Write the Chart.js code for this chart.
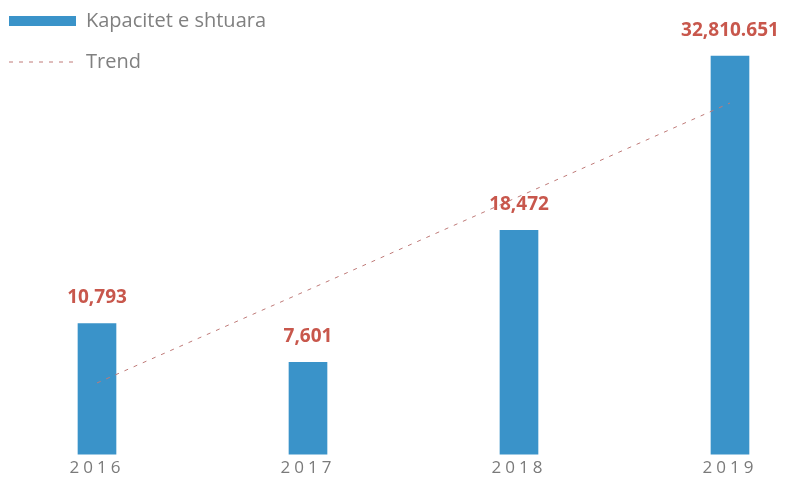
<!DOCTYPE html>
<html>
<head>
<meta charset="utf-8">
<script src="https://cdn.jsdelivr.net/npm/chart.js@4"></script>
<style>
  html, body { margin: 0; padding: 0; background: #fff; }
  #wrap { width: 785px; height: 491px; }
</style>
</head>
<body>
<div id="wrap"><canvas id="c" width="785" height="491"></canvas></div>
<script>
// data
const categories = ['2016', '2017', '2018', '2019'];
const capacity = [10793, 7601, 18472, 32810.651];
const capacityLabels = ['10,793', '7,601', '18,472', '32,810.651'];
const trend = [5900, 13550, 21250, 28950];

// value labels above the bars
const valueLabels = {
  id: 'valueLabels',
  afterDatasetsDraw(chart) {
    const ctx = chart.ctx;
    const meta = chart.getDatasetMeta(0);
    ctx.save();
    ctx.font = 'bold 19px "Open Sans", sans-serif';
    ctx.fillStyle = '#c8574c';
    ctx.textAlign = 'center';
    ctx.textBaseline = 'middle';
    meta.data.forEach((bar, i) => {
      ctx.fillText(capacityLabels[i], bar.x, bar.y - 26);
    });
    ctx.restore();
  }
};

// spaced-out year labels, legend nudged into the top-left corner
const tweaks = {
  id: 'tweaks',
  afterLayout(chart) {
    chart.legend.left -= 12;
    chart.legend.top -= 10;
  },
  beforeDraw(chart) {
    const s = chart.scales.x;
    if (s._spaced) return;
    const orig = s.drawLabels.bind(s);
    s.drawLabels = function (area) {
      this.ctx.save();
      this.ctx.letterSpacing = '4px';
      orig(area);
      this.ctx.restore();
    };
    s._spaced = true;
  }
};

const ctx = document.getElementById('c').getContext('2d');
new Chart(ctx, {
  type: 'bar',
  data: {
    datasets: [{
      label: 'Kapacitet e shtuara',
      data: capacity.map((v, i) => ({ x: i, y: v })),
      backgroundColor: '#3a93c9',
      barThickness: 38,
      pointStyle: 'rect',
      order: 2
    }, {
      type: 'line',
      label: 'Trend',
      data: trend.map((v, i) => ({ x: i, y: v })),
      borderColor: '#bf7a78',
      backgroundColor: 'transparent',
      borderWidth: 1,
      borderDash: [4, 6],
      pointRadius: 0,
      pointStyle: 'line',
      fill: false,
      order: 1
    }]
  },
  options: {
    responsive: false,
    animation: false,
    layout: { padding: { left: 0, top: 0, right: 0, bottom: 18 } },
    scales: {
      x: {
        type: 'linear',
        offset: false,
        min: -0.4597,
        max: 3.2607,
        grid: { display: false, offset: false },
        border: { display: false },
        afterBuildTicks: (scale) => {
          scale.ticks = categories.map((c, i) => ({ value: i }));
        },
        ticks: {
          callback: (v) => categories[v],
          color: '#7a7a7a',
          font: { family: '"Open Sans", sans-serif', size: 17 },
          maxRotation: 0,
          padding: -5
        }
      },
      y: {
        display: false,
        min: 0,
        max: 37430
      }
    },
    plugins: {
      legend: {
        position: 'chartArea',
        align: 'start',
        labels: {
          usePointStyle: true,
          pointStyleWidth: 67,
          boxHeight: 10,
          padding: 21,
          color: '#808080',
          font: { family: '"Open Sans", sans-serif', size: 20 },
          sort: (a, b) => a.datasetIndex - b.datasetIndex,
          generateLabels: (chart) => {
            const items = Chart.defaults.plugins.legend.labels.generateLabels(chart);
            items.forEach((it) => {
              const ds = chart.data.datasets[it.datasetIndex];
              if (ds.borderDash) it.lineDash = ds.borderDash;
            });
            return items;
          }
        }
      },
      tooltip: { enabled: false }
    }
  },
  plugins: [valueLabels, tweaks]
});
</script>
</body>
</html>
